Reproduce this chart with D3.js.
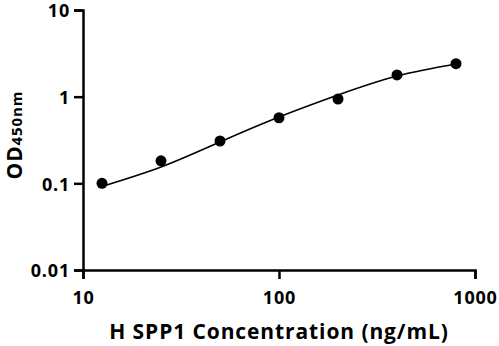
<!DOCTYPE html>
<html lang="en">
  <head>
    <meta charset="utf-8" />
    <title>H SPP1 standard curve</title>
    <script src="https://d3js.org/d3.v7.min.js"></script>
    <style>
      body {
        margin: 0;
        background: white;
      }
      .axis path,
      .axis line {
        stroke: black;
        stroke-width: 2.5;
      }
      .axis text {
        font-family: "Open Sans", sans-serif;
        font-weight: bold;
        font-size: 18px;
        letter-spacing: 0.8px;
        fill: black;
      }
      .label {
        font-family: "Open Sans", sans-serif;
        font-weight: bold;
        letter-spacing: 0.9px;
        fill: black;
      }
      .fit {
        fill: none;
        stroke: black;
        stroke-width: 1.6;
      }
    </style>
  </head>
  <body>
    <svg width="499" height="346"></svg>
    <script>
      // measured standards
      const concentration = [12.5, 25, 50, 100, 200, 400, 800];
      const od = [0.1, 0.182, 0.308, 0.571, 0.94, 1.78, 2.4];

      // fitted curve
      const fitConcentration = [12.5, 25, 50, 100, 200, 400, 800];
      const fitOd = [0.092, 0.154, 0.3, 0.582, 1.045, 1.73, 2.38];

      const xTicks = [10, 100, 1000];
      const yTicks = [0.01, 0.1, 1, 10];

      const svg = d3.select("svg"),
        margin = { top: 10, right: 24, bottom: 76, left: 83 },
        width = svg.attr("width") - margin.left - margin.right,
        height = svg.attr("height") - margin.top - margin.bottom;

      const g = svg
        .append("g")
        .attr("transform", "translate(" + margin.left + "," + margin.top + ")");

      const x = d3.scaleLog().domain([10, 1000]).range([0, width]);
      const y = d3.scaleLog().domain([0.01, 10]).range([height, 0]);

      g.append("g")
        .attr("class", "axis")
        .attr("transform", "translate(0," + height + ")")
        .call(
          d3
            .axisBottom(x)
            .tickValues(xTicks)
            .tickFormat(d3.format("d"))
            .tickSizeOuter(0)
            .tickSize(9)
            .tickPadding(12)
        );

      g.append("g")
        .attr("class", "axis")
        .call(
          d3
            .axisLeft(y)
            .tickValues(yTicks)
            .tickFormat((d) => String(d))
            .tickSizeOuter(0)
            .tickSize(9)
            .tickPadding(4)
        )
        .selectAll("text")
        .attr("dy", "0.38em");

      // fit line
      const fit = fitConcentration.map((c, i) => [c, fitOd[i]]);
      g.append("path")
        .datum(fit)
        .attr("class", "fit")
        .attr(
          "d",
          d3
            .line()
            .x((d) => x(d[0]))
            .y((d) => y(d[1]))
            .curve(d3.curveNatural)
        );

      // points
      g.append("g")
        .selectAll("circle")
        .data(concentration.map((c, i) => [c, od[i]]))
        .join("circle")
        .attr("cx", (d) => x(d[0]))
        .attr("cy", (d) => y(d[1]))
        .attr("r", 5.5)
        .attr("fill", "black");

      // axis titles
      svg
        .append("text")
        .attr("class", "label")
        .attr("x", margin.left + width / 2)
        .attr("y", 339)
        .attr("text-anchor", "middle")
        .style("font-size", "21px")
        .text("H SPP1 Concentration (ng/mL)");

      const yt = svg
        .append("text")
        .attr("class", "label")
        .attr("transform", "translate(22,135) rotate(-90)")
        .attr("text-anchor", "middle");
      yt.append("tspan").style("font-size", "21px").text("OD");
      yt.append("tspan").style("font-size", "15px").text("450nm");
    </script>
  </body>
</html>
